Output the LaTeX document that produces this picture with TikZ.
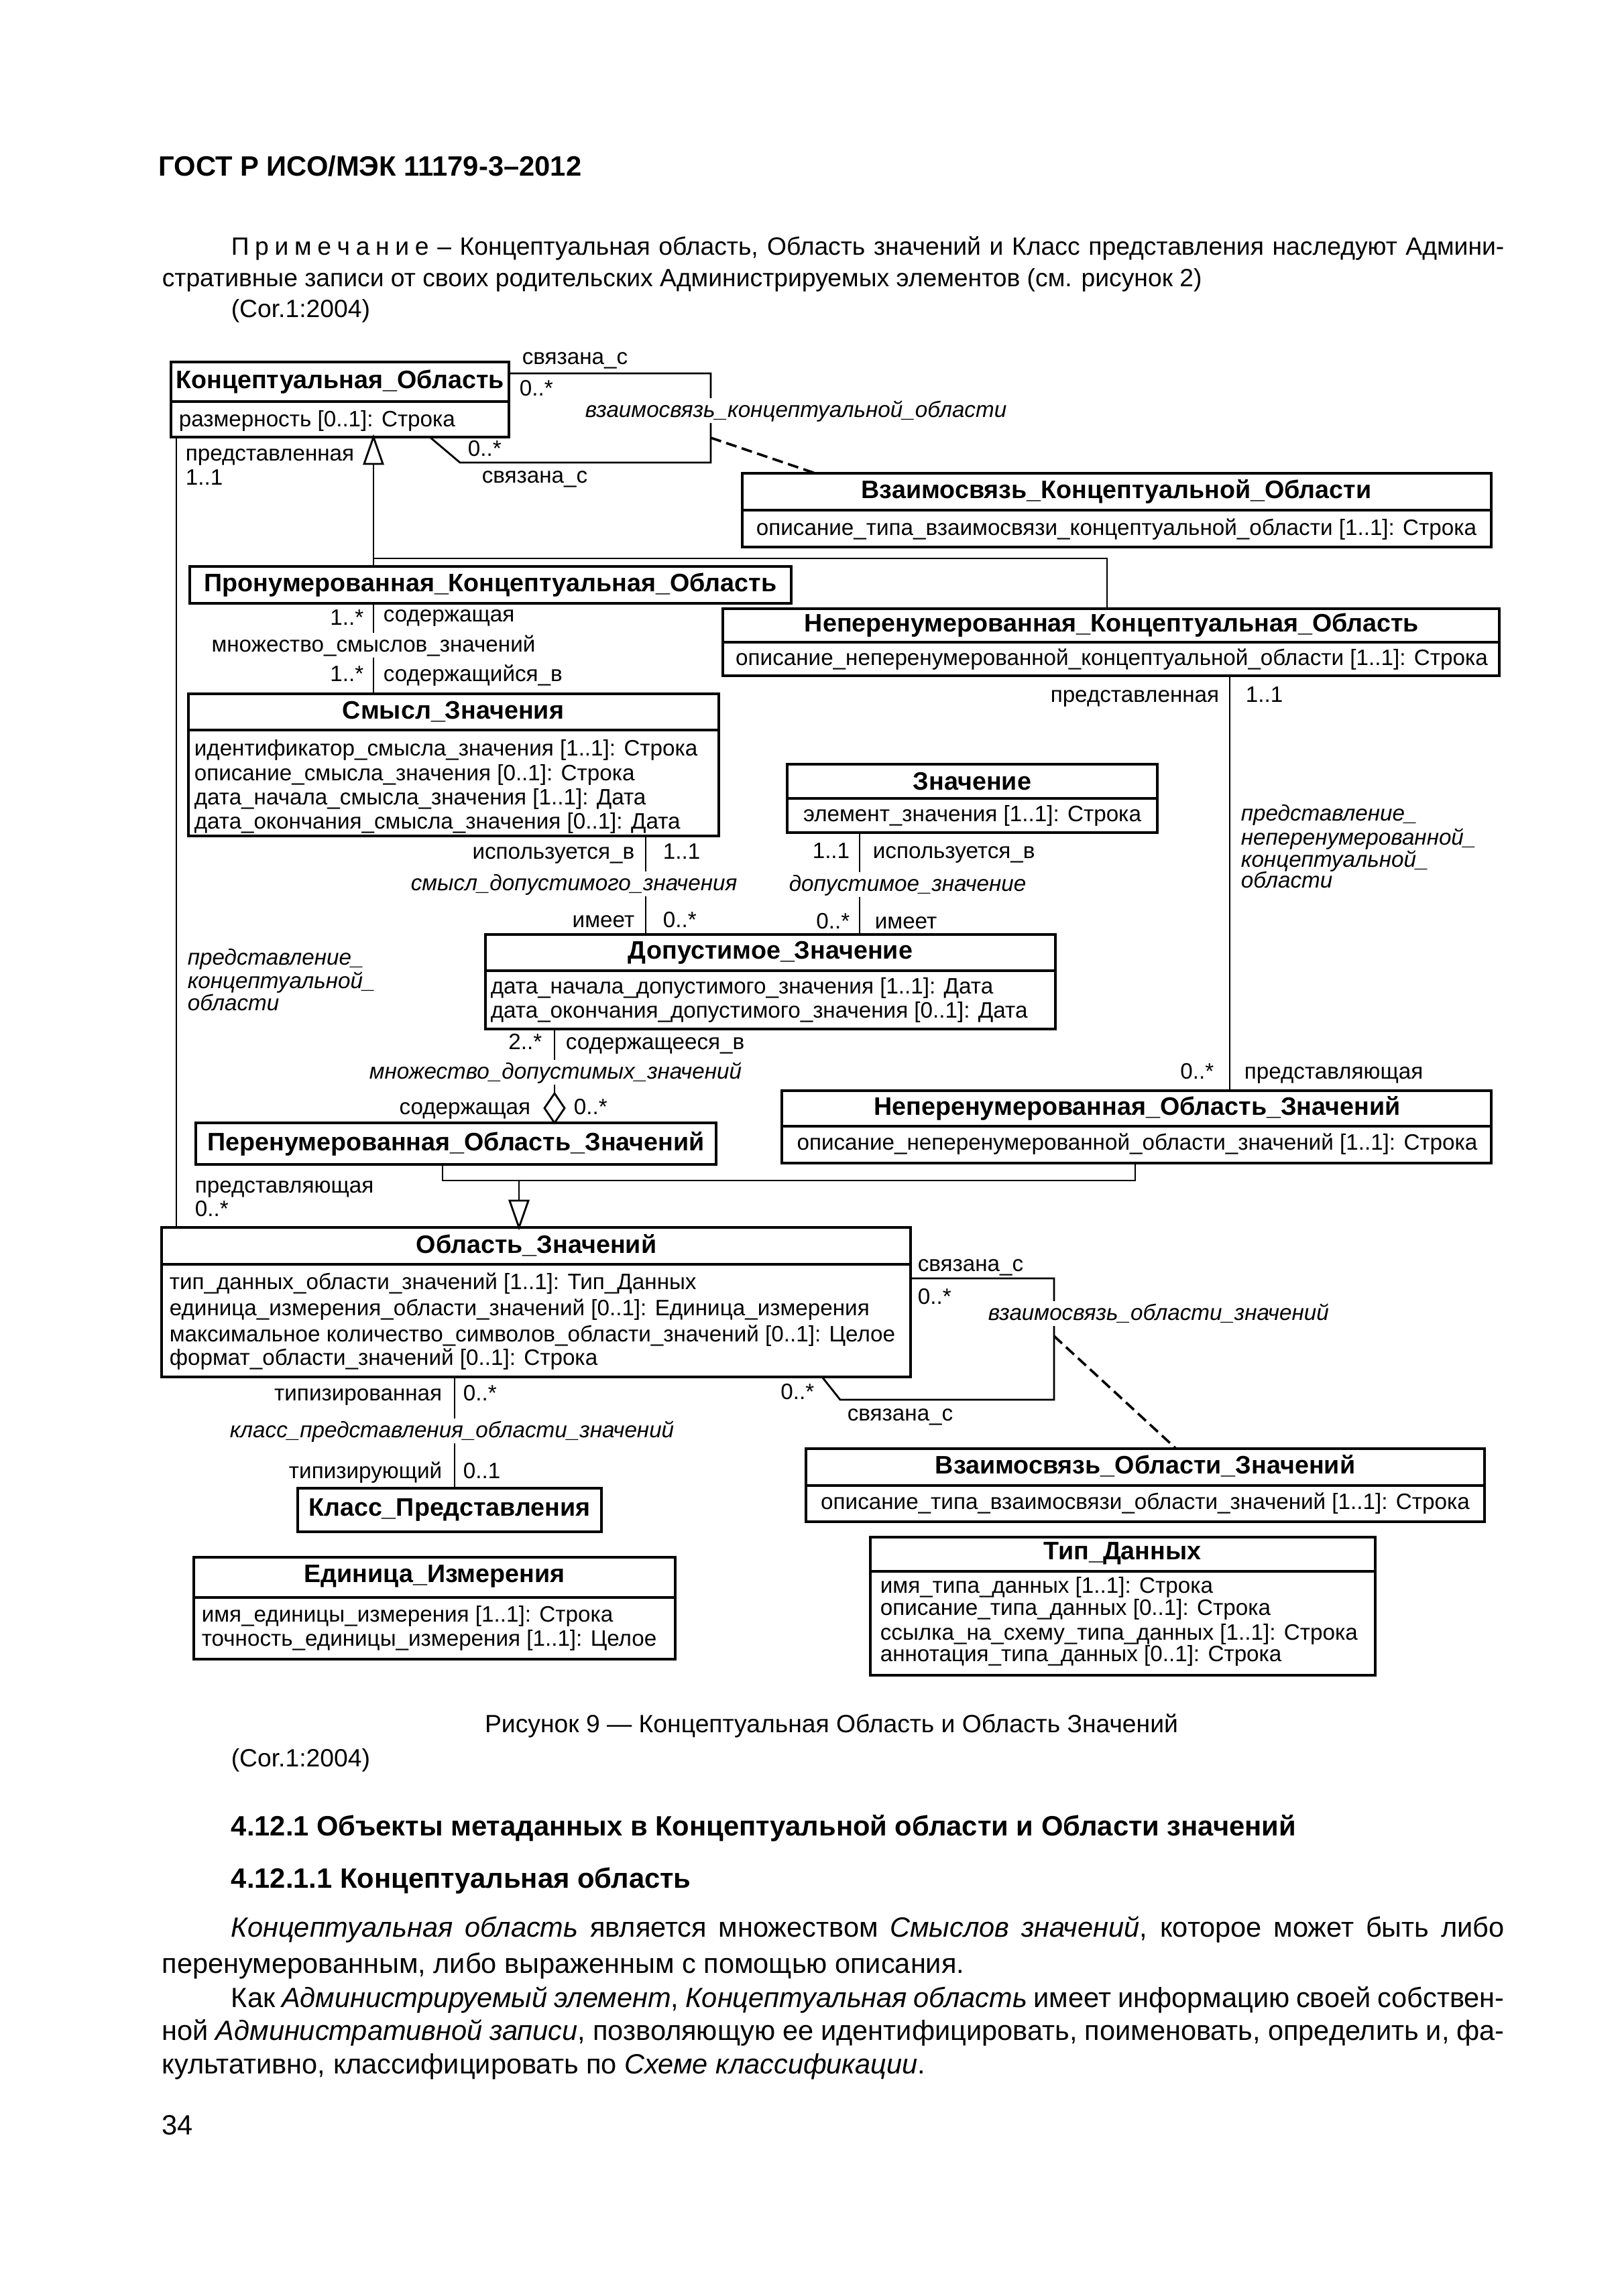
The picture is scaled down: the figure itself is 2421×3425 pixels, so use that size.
\documentclass[tikz,border=0pt]{standalone}
\usepackage{fontspec}
\setmainfont{Liberation Sans}
\usetikzlibrary{fit,calc}
\newcommand\lsp{\hspace{0.75mm}}
\tikzset{
 x=0.08674mm, y=-0.08674mm,
 box/.style={draw, line width=0.9pt, inner sep=0pt, outer sep=0pt},
 sepl/.style={line width=0.9pt},
 conn/.style={line width=0.7pt},
 dsh/.style={line width=0.9pt, dash pattern=on 4pt off 2pt},
 ttl/.style={font=\fontsize{9.3}{10}\selectfont\bfseries, inner sep=0pt},
 txt/.style={font=\fontsize{8.2}{9}\selectfont, inner sep=0pt},
 itl/.style={font=\fontsize{8.2}{9}\selectfont\itshape, inner sep=0pt, anchor=mid west},
 gap/.style={itl, fill=white, text height=7pt, text depth=2pt},
 gapr/.style={txt, fill=white, text height=7pt, text depth=2pt},
 lw/.style={txt, anchor=mid west},
 le/.style={txt, anchor=mid east},
 aw/.style={txt, anchor=mid west},
 note/.style={font=\fontsize{9.2}{11}\selectfont, inner sep=0pt, anchor=mid west},
 body/.style={font=\fontsize{10.25}{12}\selectfont, inner sep=0pt, anchor=mid west},
 head/.style={font=\fontsize{10.3}{12}\selectfont\bfseries, inner sep=0pt, anchor=mid west},
}
\begin{document}
\begin{tikzpicture}
\useasboundingbox (0,0) rectangle (2421,3425);

% ---------- page text ----------
\node[font=\fontsize{10.3}{12}\selectfont\bfseries, inner sep=0pt, anchor=mid west] (hdr) at (236,252) {ГОСТ Р ИСО/МЭК 11179-3–2012};
\node[note] (n1) at (344,370) {\makebox[164.7mm][s]{П\lsp р\lsp и\lsp м\lsp е\lsp ч\lsp а\lsp н\lsp и\lsp е – Концептуальная область, Область значений и Класс представления наследуют Админи-}};
\node[note] (n2) at (241,417) {стративные записи от своих родительских Администрируемых элементов (см. рисунок 2)};
\node[note] (n3) at (344,463) {(Cor.1:2004)};

\node[note, anchor=mid] (cap) at (1240,2574) {Рисунок 9 — Концептуальная Область и Область Значений};
\node[note] (cor2) at (344,2625) {(Cor.1:2004)};
\node[head] (h1) at (344,2728) {4.12.1 Объекты метаданных в Концептуальной области и Области значений};
\node[head] (h2) at (344,2806) {4.12.1.1 Концептуальная область};
\node[body] (p1) at (344,2879) {\makebox[164.7mm][s]{\textit{Концептуальная область} является множеством \textit{Смыслов значений}, которое может быть либо}};
\node[body] (p2) at (241,2933) {перенумерованным, либо выраженным с помощью описания.};
\node[body] (p3) at (344,2984) {\makebox[164.7mm][s]{Как \textit{Администрируемый элемент}, \textit{Концептуальная область} имеет информацию своей собствен-}};
\node[body] (p4) at (241,3033) {\makebox[173.65mm][s]{ной \textit{Административной записи}, позволяющую ее идентифицировать, поименовать, определить и, фа-}};
\node[body] (p5) at (241,3083) {культативно, классифицировать по \textit{Схеме классификации}.};
\node[body] (pg) at (241,3174) {34};

% ---------- boxes ----------
% Концептуальная_Область
\node[box, fit={(255,540)(759,652)}] (ko) {};
\draw[sepl] (ko.west |- 0,599) -- (ko.east |- 0,599);
\node[ttl] (kot) at (507,570) {Концептуальная\_Область};
\node[aw] (koa) at (266,626) {размерность [0..1]: Строка};

% Взаимосвязь_Концептуальной_Области
\node[box, fit={(1107,706)(2224,816)}] (vko) {};
\draw[sepl] (vko.west |- 0,761) -- (vko.east |- 0,761);
\node[ttl] (vkot) at (1665,733) {Взаимосвязь\_Концептуальной\_Области};
\node[txt] (vkoa) at (1665,790) {описание\_типа\_взаимосвязи\_концептуальной\_области [1..1]: Строка};

% Пронумерованная_Концептуальная_Область
\node[box, fit={(283,845)(1180,900)}] (pko) {};
\node[ttl] (pkot) at (pko.center) {Пронумерованная\_Концептуальная\_Область};

% Неперенумерованная_Концептуальная_Область
\node[box, fit={(1078,908)(2236,1008)}] (nko) {};
\draw[sepl] (nko.west |- 0,958) -- (nko.east |- 0,958);
\node[ttl] (nkot) at (1658,933) {Неперенумерованная\_Концептуальная\_Область};
\node[txt] (nkoa) at (1658,984) {описание\_неперенумерованной\_концептуальной\_области [1..1]: Строка};

% Смысл_Значения
\node[box, fit={(281,1035)(1072,1247)}] (sz) {};
\draw[sepl] (sz.west |- 0,1089) -- (sz.east |- 0,1089);
\node[ttl] (szt) at (676,1062) {Смысл\_Значения};
\node[aw] (sza1) at (289,1117) {идентификатор\_смысла\_значения [1..1]: Строка};
\node[aw] (sza2) at (289,1154) {описание\_смысла\_значения [0..1]: Строка};
\node[aw] (sza3) at (289,1190) {дата\_начала\_смысла\_значения [1..1]: Дата};
\node[aw] (sza4) at (289,1226) {дата\_окончания\_смысла\_значения [0..1]: Дата};

% Значение
\node[box, fit={(1174,1140)(1726,1242)}] (zn) {};
\draw[sepl] (zn.west |- 0,1191) -- (zn.east |- 0,1191);
\node[ttl] (znt) at (1450,1166) {Значение};
\node[txt] (zna) at (1450,1217) {элемент\_значения [1..1]: Строка};

% Допустимое_Значение
\node[box, fit={(724,1394)(1574,1535)}] (dz) {};
\draw[sepl] (dz.west |- 0,1448) -- (dz.east |- 0,1448);
\node[ttl] (dzt) at (1149,1421) {Допустимое\_Значение};
\node[aw] (dza1) at (731,1472) {дата\_начала\_допустимого\_значения [1..1]: Дата};
\node[aw] (dza2) at (731,1508) {дата\_окончания\_допустимого\_значения [0..1]: Дата};

% Неперенумерованная_Область_Значений
\node[box, fit={(1166,1627)(2224,1735)}] (noz) {};
\draw[sepl] (noz.west |- 0,1680) -- (noz.east |- 0,1680);
\node[ttl] (nozt) at (1696,1653) {Неперенумерованная\_Область\_Значений};
\node[txt] (noza) at (1696,1707) {описание\_неперенумерованной\_области\_значений [1..1]: Строка};

% Перенумерованная_Область_Значений
\node[box, fit={(292,1675)(1068,1737)}] (poz) {};
\node[ttl] (pozt) at (poz.center) {Перенумерованная\_Область\_Значений};

% Область_Значений
\node[box, fit={(241,1831)(1358,2054)}] (oz) {};
\draw[sepl] (oz.west |- 0,1886) -- (oz.east |- 0,1886);
\node[ttl] (ozt) at (800,1858) {Область\_Значений};
\node[aw] (oza1) at (252,1913) {тип\_данных\_области\_значений [1..1]: Тип\_Данных};
\node[aw] (oza2) at (252,1952) {единица\_измерения\_области\_значений [0..1]: Единица\_измерения};
\node[aw] (oza3) at (252,1991) {максимальное количество\_символов\_области\_значений [0..1]: Целое};
\node[aw] (oza4) at (252,2026) {формат\_области\_значений [0..1]: Строка};

% Взаимосвязь_Области_Значений
\node[box, fit={(1202,2161)(2214,2270)}] (voz) {};
\draw[sepl] (voz.west |- 0,2216) -- (voz.east |- 0,2216);
\node[ttl] (vozt) at (1708,2187) {Взаимосвязь\_Области\_Значений};
\node[txt] (voza) at (1708,2243) {описание\_типа\_взаимосвязи\_области\_значений [1..1]: Строка};

% Класс_Представления
\node[box, fit={(444,2220)(897,2285)}] (kp) {};
\node[ttl] (kpt) at (kp.center) {Класс\_Представления};

% Единица_Измерения
\node[box, fit={(289,2323)(1007,2475)}] (ei) {};
\draw[sepl] (ei.west |- 0,2383) -- (ei.east |- 0,2383);
\node[ttl] (eit) at (648,2351) {Единица\_Измерения};
\node[aw] (eia1) at (300,2409) {имя\_единицы\_измерения [1..1]: Строка};
\node[aw] (eia2) at (300,2445) {точность\_единицы\_измерения [1..1]: Целое};

% Тип_Данных
\node[box, fit={(1298,2293)(2051,2499)}] (td) {};
\draw[sepl] (td.west |- 0,2344) -- (td.east |- 0,2344);
\node[ttl] (tdt) at (1674,2317) {Тип\_Данных};
\node[aw] (tda1) at (1312,2366) {имя\_типа\_данных [1..1]: Строка};
\node[aw] (tda2) at (1312,2399) {описание\_типа\_данных [0..1]: Строка};
\node[aw] (tda3) at (1312,2436) {ссылка\_на\_схему\_типа\_данных [1..1]: Строка};
\node[aw] (tda4) at (1312,2468) {аннотация\_типа\_данных [0..1]: Строка};

% ---------- connectors ----------
% Концептуальная_Область self association
\coordinate (a1) at (1060,557);
\coordinate (a2) at (1060,690);
\coordinate (a3) at (686,690);
\coordinate (a4) at (641,0);
\coordinate (a5) at (1060,653);
\coordinate (a6) at (1216,0);
\draw[conn] (ko.east |- a1) -- (a1) -- (a2) -- (a3) -- (a4 |- ko.south);
\draw[dsh] (a5) -- (vko.north -| a6);
\node[lw] (l1) at (778,533) {связана\_с};
\node[lw] (l2) at (774,580) {0..*};
\node[lw] (l3) at (697,670) {0..*};
\node[lw] (l4) at (718,710) {связана\_с};
\node[gap] (l5) at (872,612) {взаимосвязь\_концептуальной\_области};

% generalization to Концептуальная_Область
\coordinate (g1) at (557,692);
\coordinate (g2) at (557,833);
\coordinate (g3) at (1651,833);
\draw[conn] (g1) -- (g2) -- (g3) -- (nko.north -| g3);
\draw[conn] (g2) -- (pko.north -| g2);
\draw[conn, fill=white] (ko.south -| g1) -- ++(-14,40) -- ++(28,0) -- cycle;

% Пронумерованная_КО -- Смысл_Значения
\draw[conn] (pko.south -| g1) -- (sz.north -| g1);
\node[le] (l6) at (543,922) {1..*};
\node[lw] (l7) at (571,917) {содержащая};
\node[gapr, anchor=mid] (l8) at (557,962) {множество\_смыслов\_значений};
\node[le] (l9) at (543,1006) {1..*};
\node[lw] (l10) at (571,1006) {содержащийся\_в};

% Концептуальная_Область -- Область_Значений
\coordinate (d1) at (263,0);
\draw[conn] (ko.south -| d1) -- (oz.north -| d1);
\node[lw] (l11) at (276,677) {представленная};
\node[lw] (l12) at (276,713) {1..1};
\node[itl] (l13) at (279,1429) {представление\_};
\node[itl] (l14) at (279,1464) {концептуальной\_};
\node[itl] (l15) at (279,1497) {области};
\node[lw] (l16) at (290,1769) {представляющая};
\node[lw] (l17) at (290,1804) {0..*};

% Неперенумерованная_КО -- Неперенумерованная_ОЗ
\coordinate (e1) at (1834,0);
\draw[conn] (nko.south -| e1) -- (noz.north -| e1);
\node[le] (l18) at (1819,1037) {представленная};
\node[lw] (l19) at (1857,1037) {1..1};
\node[itl] (l20) at (1850,1214) {представление\_};
\node[itl] (l21) at (1850,1250) {неперенумерованной\_};
\node[itl] (l22) at (1850,1283) {концептуальной\_};
\node[itl] (l23) at (1850,1314) {области};
\node[le] (l24) at (1811,1599) {0..*};
\node[lw] (l25) at (1855,1599) {представляющая};

% Смысл_Значения -- Допустимое_Значение
\coordinate (f1) at (963,0);
\draw[conn] (sz.south -| f1) -- (dz.north -| f1);
\node[le] (l26) at (947,1271) {используется\_в};
\node[lw] (l27) at (988,1271) {1..1};
\node[gap] (l28) at (612,1318) {смысл\_допустимого\_значения};
\node[le] (l29) at (947,1373) {имеет};
\node[lw] (l30) at (988,1373) {0..*};

% Значение -- Допустимое_Значение
\coordinate (h1) at (1282,0);
\draw[conn] (zn.south -| h1) -- (dz.north -| h1);
\node[le] (l31) at (1268,1270) {1..1};
\node[lw] (l32) at (1301,1270) {используется\_в};
\node[gap] (l33) at (1176,1319) {допустимое\_значение};
\node[le] (l34) at (1268,1375) {0..*};
\node[lw] (l35) at (1304,1375) {имеет};

% Допустимое_Значение -- Перенумерованная_ОЗ (aggregation)
\coordinate (k1) at (827,0);
\draw[conn] (dz.south -| k1) -- ($(poz.north -| k1)+(0,-44)$);
\draw[conn, fill=white] (poz.north -| k1) -- ++(-15,-22) -- ++(15,-22) -- ++(15,22) -- cycle;
\node[le] (l36) at (809,1555) {2..*};
\node[lw] (l37) at (843,1555) {содержащееся\_в};
\node[gap] (l38) at (550,1599) {множество\_допустимых\_значений};
\node[le] (l39) at (792,1652) {содержащая};
\node[lw] (l40) at (855,1652) {0..*};

% generalization to Область_Значений
\coordinate (i1) at (660,1761);
\coordinate (i2) at (1693,1761);
\coordinate (i3) at (774,1761);
\draw[conn] (poz.south -| i1) -- (i1) -- (i2) -- (noz.south -| i2);
\draw[conn] (i3) -- ++(0,30);
\draw[conn, fill=white] (oz.north -| i3) -- ++(-14,-40) -- ++(28,0) -- cycle;

% Область_Значений self association
\coordinate (j1) at (1572,1907);
\coordinate (j2) at (1572,2088);
\coordinate (j3) at (1253,2088);
\coordinate (j4) at (1226,0);
\coordinate (j5) at (1572,1993);
\coordinate (j6) at (1754,0);
\draw[conn] (oz.east |- j1) -- (j1) -- (j2) -- (j3) -- (j4 |- oz.south);
\draw[dsh] (j5) -- (voz.north -| j6);
\node[lw] (l41) at (1368,1886) {связана\_с};
\node[lw] (l42) at (1368,1935) {0..*};
\node[le] (l43) at (1215,2077) {0..*};
\node[lw] (l44) at (1263,2109) {связана\_с};
\node[gap] (l45) at (1473,1959) {взаимосвязь\_области\_значений};

% Область_Значений -- Класс_Представления
\coordinate (m1) at (678,0);
\draw[conn] (oz.south -| m1) -- (kp.north -| m1);
\node[le] (l46) at (660,2079) {типизированная};
\node[lw] (l47) at (690,2079) {0..*};
\node[gap] (l48) at (342,2134) {класс\_представления\_области\_значений};
\node[le] (l49) at (660,2195) {типизирующий};
\node[lw] (l50) at (690,2195) {0..1};
\end{tikzpicture}
\end{document}
